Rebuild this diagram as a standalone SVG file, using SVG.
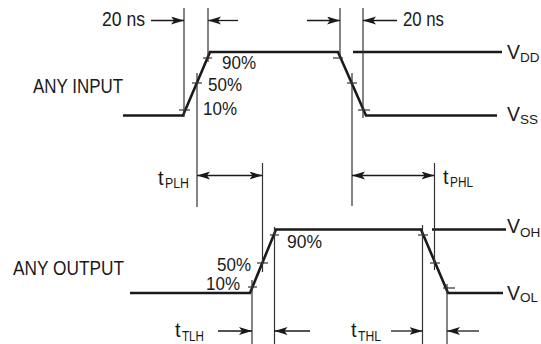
<svg xmlns="http://www.w3.org/2000/svg" width="541" height="344" viewBox="0 0 541 344">
<style>
.wave{fill:none;stroke:#1a1a1a;stroke-width:2.6;stroke-linejoin:miter}
.ref{fill:none;stroke:#333;stroke-width:1.2}
.tick{fill:none;stroke:#333;stroke-width:1.2}
.arr{fill:none;stroke:#1a1a1a;stroke-width:1.3}
.end{marker-end:url(#ah)}
.both{marker-start:url(#ahs);marker-end:url(#ah)}
text{font-family:"Liberation Sans",Arial,sans-serif;fill:#1a1a1a}
.lb{font-size:20px}
.pc{font-size:18px}
.sub{font-size:15px}
.sr{font-size:13.5px}
</style>
<defs>
<marker id="ah" markerUnits="userSpaceOnUse" markerWidth="14" markerHeight="10" refX="13" refY="4" orient="auto">
<path d="M0,0 L13,4 L0,8 L3,4 z" fill="#1a1a1a"/>
</marker>
<marker id="ahs" markerUnits="userSpaceOnUse" markerWidth="14" markerHeight="10" refX="13" refY="4" orient="auto-start-reverse">
<path d="M0,0 L13,4 L0,8 L3,4 z" fill="#1a1a1a"/>
</marker>
</defs>

<g id="input-waveform">
<polyline class="wave" points="123,115.5 183,115.5 210,52 338,52 366,115.5 497,115.5"/>
<line class="wave" x1="353" y1="52" x2="502" y2="52"/>
<line class="tick" x1="179" y1="110" x2="190" y2="110"/>
<line class="tick" x1="192" y1="83" x2="202" y2="83"/>
<line class="tick" x1="203" y1="58" x2="212" y2="58"/>
<line class="tick" x1="333" y1="58" x2="343" y2="58"/>
<line class="tick" x1="347" y1="83" x2="357" y2="83"/>
<line class="tick" x1="358" y1="110" x2="370" y2="110"/>
</g>

<g id="output-waveform">
<polyline class="wave" points="130,293 250,293 276,229.5 421,229.5 448,293 503,293"/>
<line class="wave" x1="432" y1="229.5" x2="506" y2="229.5"/>
<line class="tick" x1="248" y1="287" x2="257" y2="287"/>
<line class="tick" x1="257" y1="263" x2="268" y2="263"/>
<line class="tick" x1="270" y1="235" x2="279" y2="235"/>
<line class="tick" x1="418" y1="235" x2="428" y2="235"/>
<line class="tick" x1="430" y1="263" x2="440" y2="263"/>
<line class="tick" x1="443" y1="288" x2="455" y2="288"/>
</g>

<g id="reference-lines">
<line class="ref" x1="184" y1="8" x2="184" y2="117"/>
<line class="ref" x1="208" y1="8" x2="208" y2="62"/>
<line class="ref" x1="340" y1="8" x2="340" y2="56"/>
<line class="ref" x1="363" y1="8" x2="363" y2="118"/>
<line class="ref" x1="197" y1="73" x2="197" y2="207"/>
<line class="ref" x1="352" y1="73" x2="352" y2="206"/>
<line class="ref" x1="262.5" y1="163" x2="262.5" y2="272"/>
<line class="ref" x1="434.5" y1="163" x2="434.5" y2="270"/>
<line class="ref" x1="252" y1="280" x2="252" y2="344"/>
<line class="ref" x1="274.5" y1="227" x2="274.5" y2="344"/>
<line class="ref" x1="422.5" y1="225" x2="422.5" y2="344"/>
<line class="ref" x1="447" y1="284" x2="447" y2="344"/>
</g>

<g id="connectors">
<line class="arr end" x1="151" y1="20.5" x2="184" y2="20.5"/>
<line class="arr end" x1="238" y1="20.5" x2="208" y2="20.5"/>
<line class="arr end" x1="307" y1="20.5" x2="340" y2="20.5"/>
<line class="arr end" x1="397" y1="20.5" x2="363" y2="20.5"/>
<line class="arr both" x1="197" y1="175.5" x2="262.5" y2="175.5"/>
<line class="arr both" x1="352" y1="175.5" x2="434.5" y2="175.5"/>
<line class="arr end" x1="218" y1="331" x2="252" y2="331"/>
<line class="arr end" x1="310" y1="331" x2="274.5" y2="331"/>
<line class="arr end" x1="391" y1="331" x2="422.5" y2="331"/>
<line class="arr end" x1="479" y1="331" x2="447" y2="331"/>
</g>

<g id="labels">
<text class="lb" x="102" y="26" textLength="43" lengthAdjust="spacingAndGlyphs">20 ns</text>
<text class="lb" x="403" y="26" textLength="41" lengthAdjust="spacingAndGlyphs">20 ns</text>
<text class="lb" x="33" y="93" textLength="90" lengthAdjust="spacingAndGlyphs">ANY INPUT</text>
<text class="pc" x="222" y="69" textLength="34" lengthAdjust="spacingAndGlyphs">90%</text>
<text class="pc" x="208" y="91" textLength="34" lengthAdjust="spacingAndGlyphs">50%</text>
<text class="pc" x="203" y="115" textLength="34" lengthAdjust="spacingAndGlyphs">10%</text>
<text class="lb" x="507" y="59" textLength="13" lengthAdjust="spacingAndGlyphs">V</text>
<text class="sr" x="520" y="62">DD</text>
<text class="lb" x="507" y="121" textLength="13" lengthAdjust="spacingAndGlyphs">V</text>
<text class="sr" x="520" y="124">SS</text>
<text class="lb" x="158" y="185">t</text>
<text class="sub" x="165" y="188" textLength="24" lengthAdjust="spacingAndGlyphs">PLH</text>
<text class="lb" x="443" y="184">t</text>
<text class="sub" x="450" y="187" textLength="23" lengthAdjust="spacingAndGlyphs">PHL</text>
<text class="lb" x="13" y="275" textLength="111" lengthAdjust="spacingAndGlyphs">ANY OUTPUT</text>
<text class="pc" x="217" y="271" textLength="34" lengthAdjust="spacingAndGlyphs">50%</text>
<text class="pc" x="206" y="290" textLength="34" lengthAdjust="spacingAndGlyphs">10%</text>
<text class="pc" x="287" y="248" textLength="35" lengthAdjust="spacingAndGlyphs">90%</text>
<text class="lb" x="507" y="233" textLength="13" lengthAdjust="spacingAndGlyphs">V</text>
<text class="sr" x="520" y="237">OH</text>
<text class="lb" x="507" y="300" textLength="13" lengthAdjust="spacingAndGlyphs">V</text>
<text class="sr" x="520" y="302">OL</text>
<text class="lb" x="175" y="337">t</text>
<text class="sub" x="182" y="341" textLength="22" lengthAdjust="spacingAndGlyphs">TLH</text>
<text class="lb" x="351" y="337">t</text>
<text class="sub" x="358" y="341" textLength="23" lengthAdjust="spacingAndGlyphs">THL</text>
</g>
</svg>
